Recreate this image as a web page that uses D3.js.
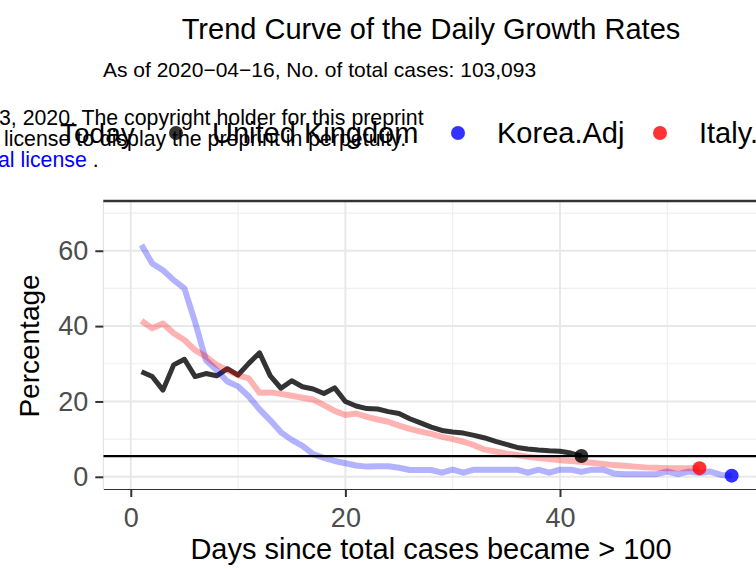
<!DOCTYPE html>
<html>
<head>
<meta charset="utf-8">
<script src="https://d3js.org/d3.v7.min.js"></script>
<style>
  body { margin: 0; background: #fff; }
  text { font-family: "Liberation Sans", Arial, Helvetica, sans-serif; }
</style>
</head>
<body>
<div id="chart"></div>
<script>
// Data
const seriesNames = ["United Kingdom", "Korea.Adj", "Italy."];

const ukRates = [27.9, 26.6, 23.0, 29.7, 31.2, 26.6, 27.4, 26.8, 28.7, 27.0,
  30.1, 32.9, 26.8, 23.5, 25.5, 23.9, 23.3, 22.1, 23.6, 20.0,
  18.8, 18.1, 18.0, 17.3, 16.8, 15.4, 14.3, 13.2, 12.3, 11.9,
  11.6, 11.0, 10.3, 9.4, 8.6, 7.8, 7.4, 7.1, 6.9, 6.8,
  6.3, 5.5];

const koreaRates = [61.5, 56.6, 54.8, 52.2, 50.0, 41.0, 31.0, 28.3, 25.3, 24.0,
  21.3, 17.9, 15.0, 11.8, 9.8, 8.2, 6.0, 5.0, 4.2, 3.6,
  3.0, 2.7, 2.8, 2.8, 2.4, 1.8, 1.8, 1.8, 1.1, 1.9,
  1.1, 1.9, 1.9, 1.9, 1.9, 1.9, 1.1, 1.9, 1.1, 1.9,
  1.9, 1.3, 1.9, 1.9, 0.9, 0.7, 0.7, 0.7, 0.7, 1.4,
  0.7, 1.4, 1.0, 1.4, 0.5, 0.3];

const italyRates = [41.4, 39.4, 40.7, 38.1, 36.3, 33.6, 31.9, 29.7, 28.3, 27.0,
  26.1, 22.3, 22.4, 22.0, 21.5, 21.0, 20.5, 19.0, 17.5, 16.4,
  16.8, 15.9, 15.2, 14.6, 13.6, 12.7, 12.0, 11.4, 10.6, 10.0,
  9.3, 8.4, 7.2, 6.7, 6.2, 5.8, 5.3, 5.0, 4.7, 4.4,
  4.2, 4.0, 3.7, 3.4, 3.1, 2.9, 2.7, 2.5, 2.4, 2.3,
  2.3, 2.3, 2.3];

const todayRate = 5.5;
const xTicks = [0, 20, 40];
const yTicks = [0, 20, 40, 60];
const xMinor = [10, 30, 50];
const yMinor = [10, 30, 50, 70];

const width = 756, height = 569;
const panel = {left: 103.3, right: 760, top: 201, bottom: 489};

const svg = d3.select("#chart")
  .append("svg")
    .attr("width", width)
    .attr("height", height);

const x = d3.scaleLinear()
  .domain([-2.56, 58.64])
  .range([panel.left, panel.right]);

const y = d3.scaleLinear()
  .domain([-3.24, 73.2])
  .range([panel.bottom, panel.top]);

svg.append("clipPath").attr("id", "clip")
  .append("rect")
    .attr("x", panel.left).attr("y", panel.top)
    .attr("width", panel.right - panel.left)
    .attr("height", panel.bottom - panel.top);

// Grid
const grid = svg.append("g").attr("clip-path", "url(#clip)");
grid.selectAll(".vminor").data(xMinor).join("line")
  .attr("x1", d => x(d)).attr("x2", d => x(d))
  .attr("y1", panel.top).attr("y2", panel.bottom)
  .attr("stroke", "#efefef").attr("stroke-width", 1.2);
grid.selectAll(".hminor").data(yMinor).join("line")
  .attr("y1", d => y(d)).attr("y2", d => y(d))
  .attr("x1", panel.left).attr("x2", panel.right)
  .attr("stroke", "#efefef").attr("stroke-width", 1.2);
grid.selectAll(".vmajor").data(xTicks).join("line")
  .attr("x1", d => x(d)).attr("x2", d => x(d))
  .attr("y1", panel.top).attr("y2", panel.bottom)
  .attr("stroke", "#e8e8e8").attr("stroke-width", 2);
grid.selectAll(".hmajor").data(yTicks).join("line")
  .attr("y1", d => y(d)).attr("y2", d => y(d))
  .attr("x1", panel.left).attr("x2", panel.right)
  .attr("stroke", "#e8e8e8").attr("stroke-width", 2);

// left edge + top line
svg.append("line")
  .attr("x1", panel.left).attr("x2", panel.left)
  .attr("y1", panel.top).attr("y2", panel.bottom)
  .attr("stroke", "#dedede").attr("stroke-width", 1);
svg.append("line")
  .attr("x1", panel.left).attr("x2", panel.right)
  .attr("y1", panel.top).attr("y2", panel.top)
  .attr("stroke", "#333").attr("stroke-width", 2.5);

// Lines
const line = d3.line()
  .x((d, i) => x(i + 1))
  .y(d => y(d));

const plot = svg.append("g").attr("clip-path", "url(#clip)");

plot.append("path").datum(ukRates)
  .attr("d", line).attr("fill", "none")
  .attr("stroke", "rgba(0,0,0,0.8)").attr("stroke-width", 5)
  .attr("stroke-linejoin", "round");
plot.append("path").datum(koreaRates)
  .attr("d", line).attr("fill", "none")
  .attr("stroke", "rgba(0,0,255,0.3)").attr("stroke-width", 6)
  .attr("stroke-linejoin", "round");
plot.append("path").datum(italyRates)
  .attr("d", line).attr("fill", "none")
  .attr("stroke", "rgba(255,0,0,0.3)").attr("stroke-width", 6)
  .attr("stroke-linejoin", "round");

// Today line
plot.append("line")
  .attr("x1", panel.left).attr("x2", panel.right)
  .attr("y1", y(todayRate)).attr("y2", y(todayRate))
  .attr("stroke", "#000").attr("stroke-width", 2.2);

// End points
const ends = [
  {day: ukRates.length, v: ukRates[ukRates.length - 1], fill: "rgba(0,0,0,0.8)"},
  {day: italyRates.length, v: italyRates[italyRates.length - 1], fill: "rgba(255,0,0,0.8)"},
  {day: koreaRates.length, v: koreaRates[koreaRates.length - 1], fill: "rgba(0,0,255,0.8)"}
];
plot.selectAll(".end").data(ends).join("circle")
  .attr("cx", d => x(d.day)).attr("cy", d => y(d.v))
  .attr("r", 7)
  .attr("fill", d => d.fill);

// Axes
const xAxis = svg.append("g")
  .attr("transform", `translate(0,${panel.bottom})`)
  .call(d3.axisBottom(x).tickValues(xTicks).tickSize(8).tickSizeOuter(0).tickPadding(11));
xAxis.select(".domain").attr("stroke", "#333").attr("stroke-width", 1.2);
xAxis.selectAll(".tick line").attr("stroke", "#333").attr("stroke-width", 2);
xAxis.selectAll("text")
  .attr("fill", "#4d4d4d")
  .style("font-size", "27px");

const yAxis = svg.append("g")
  .attr("transform", `translate(${panel.left},0)`)
  .call(d3.axisLeft(y).tickValues(yTicks).tickSize(8).tickPadding(7));
yAxis.select(".domain").remove();
yAxis.selectAll(".tick line").attr("stroke", "#333").attr("stroke-width", 2);
yAxis.selectAll("text")
  .attr("fill", "#4d4d4d")
  .style("font-size", "27px");

// Axis titles
svg.append("text")
  .attr("x", 431).attr("y", 559)
  .attr("text-anchor", "middle")
  .style("font-size", "29px")
  .text("Days since total cases became > 100");

svg.append("text")
  .attr("transform", `translate(39,${(panel.top + panel.bottom) / 2 + 1})rotate(-90)`)
  .attr("text-anchor", "middle")
  .style("font-size", "28px")
  .text("Percentage");

// Titles
svg.append("text")
  .attr("x", 431).attr("y", 39)
  .attr("text-anchor", "middle")
  .style("font-size", "29px")
  .text("Trend Curve of the Daily Growth Rates");

svg.append("text")
  .attr("x", 103).attr("y", 77)
  .style("font-size", "21px")
  .text("As of 2020\u221204\u221216, No. of total cases: 103,093");

// Watermark text from the preprint
svg.append("text").attr("x", -1).attr("y", 125)
  .style("font-size", "21.3px")
  .text("3, 2020. The copyright holder for this preprint");
svg.append("text").attr("x", 4).attr("y", 146)
  .style("font-size", "21.3px")
  .text("license to display the preprint in perpetuity.");
const wm = svg.append("text").attr("x", -2).attr("y", 167)
  .style("font-size", "21.3px");
wm.append("tspan").attr("fill", "#0000ff").text("al license");
wm.append("tspan").text(" .");

// Legend
const legendDots = [176, 458, 660];
const legendText = [212, 497, 699];
const legendColors = ["rgba(0,0,0,0.8)", "rgba(0,0,255,0.8)", "rgba(255,0,0,0.8)"];

svg.append("text")
  .attr("x", 60).attr("y", 143)
  .style("font-size", "28px")
  .text("Today");

const legend = svg.append("g");
legend.selectAll("circle").data(seriesNames).join("circle")
  .attr("cx", (d, i) => legendDots[i]).attr("cy", 133)
  .attr("r", 7)
  .attr("fill", (d, i) => legendColors[i]);
legend.selectAll("text").data(seriesNames).join("text")
  .attr("x", (d, i) => legendText[i]).attr("y", 143)
  .style("font-size", "29px")
  .text(d => d);
</script>
</body>
</html>
